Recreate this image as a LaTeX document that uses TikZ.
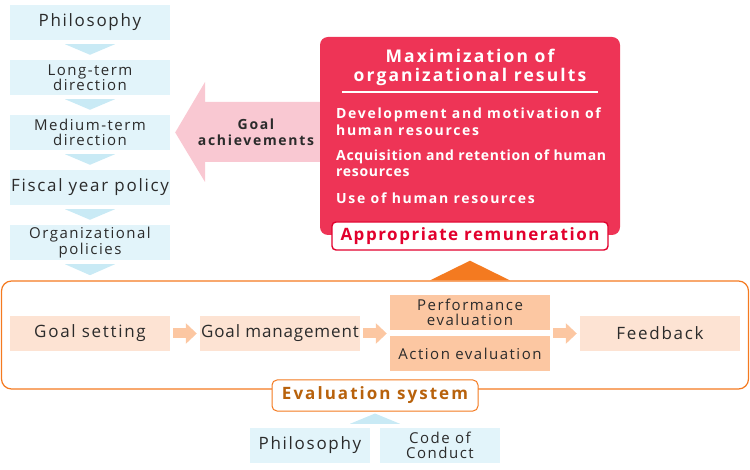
\documentclass[tikz,border=0pt]{standalone}
\usepackage{fontspec}
\setmainfont{Open Sans}[LetterSpace=10]
\newfontfamily\wideface{Open Sans}[LetterSpace=12]
\newfontfamily\midface{Open Sans}[LetterSpace=9]
\newfontfamily\tightface{Open Sans}[LetterSpace=5]
\usetikzlibrary{arrows.meta,calc}

\definecolor{BlueBox}{HTML}{E2F4FA}
\definecolor{BlueTri}{HTML}{C9EAF5}
\definecolor{PeachBox}{HTML}{FDE3D3}
\definecolor{PeachDark}{HTML}{FCC7A2}
\definecolor{EvalOrange}{HTML}{F47A20}
\definecolor{EvalText}{HTML}{B8620C}
\definecolor{ResultRed}{HTML}{EE3456}
\definecolor{RemunRed}{HTML}{E2002D}
\definecolor{GoalPink}{HTML}{F9C8D2}
\definecolor{TextGray}{HTML}{2B2B2B}

\tikzstyle{StepBox}=[rectangle, fill=BlueBox, text=TextGray, minimum width=160pt, minimum height=35pt, inner sep=0pt, align=center]
\tikzstyle{BigText}=[font=\fontsize{17}{19}\selectfont]
\tikzstyle{SmallText}=[font=\fontsize{15}{15.5}\selectfont]
\tikzstyle{ProcBox}=[StepBox, fill=PeachBox]
\tikzstyle{EvalBox}=[ProcBox, fill=PeachDark]
\tikzstyle{DownTri}=[fill=BlueTri]
\tikzstyle{ProcArrow}=[-{Triangle[length=11pt,width=20pt]}, line width=10pt, draw=PeachDark, fill=PeachDark, shorten <=3pt, shorten >=3pt]
\tikzstyle{ResultItem}=[anchor=west, text=white, align=left, inner sep=0pt, font=\wideface\bfseries\fontsize{14}{16.5}\selectfont]
\tikzstyle{BoldTitle}=[font=\wideface\bfseries\fontsize{17}{19}\selectfont]

\begin{document}
\begin{tikzpicture}[x=1pt,y=-1pt]
\useasboundingbox (0,0) rectangle (750,470);

% policy chain on the left
\node[StepBox, BigText](Phil) at (90,22.5) {Philosophy};
\node[StepBox, SmallText](LongDir) at (90,77.5) {Long-term\\direction};
\node[StepBox, SmallText](MedDir) at (90,132.5) {Medium-term\\direction};
\node[StepBox, BigText](FiscalPol) at (90,187.5) {Fiscal year policy};
\node[StepBox, SmallText](OrgPol) at (90,242.5) {Organizational\\policies};

\foreach \a/\b in {Phil/LongDir, LongDir/MedDir, MedDir/FiscalPol, FiscalPol/OrgPol}
  \fill[DownTri] ($(\a.south)+(-25,4)$) -- ($(\a.south)+(25,4)$) -- ($(\b.north)+(0,-5)$) -- cycle;
\fill[DownTri] ($(OrgPol.south)+(-25,4)$) -- ($(OrgPol.south)+(25,4)$) -- ($(OrgPol.south)+(0,15)$) -- cycle;

%%%%%%%%%%%%%%%%%%%%%%%%%%%%%%%%%%%%%%%%%

% goal achievements arrow and results box
\fill[GoalPink] (320,102) -- (205,102) -- (205,82) -- ($(MedDir.east)+(5,0)$) -- (205,182) -- (205,162) -- (320,162) -- cycle;
\node[text=TextGray, align=center, font=\wideface\bfseries\fontsize{14}{16}\selectfont](GoalTxt) at (256,132) {Goal\\achievements};

\node[fill=ResultRed, rounded corners=8pt, minimum width=300pt, minimum height=198pt](Results) at (470,136) {};
\node[text=white, align=center, font=\wideface\bfseries\fontsize{17.5}{19}\selectfont](ResTitle) at (470,67) {Maximization of\\organizational results};
\draw[white, line width=1.5pt] (342,92) -- (598,92);
\node[ResultItem](Item1) at (336,121.5) {Development and motivation of\\human resources};
\node[ResultItem, font=\tightface\bfseries\fontsize{14}{16.5}\selectfont](Item2) at (336,163) {Acquisition and retention of human\\resources};
\node[ResultItem](Item3) at (336,198) {Use of human resources};
\node[font=\midface\bfseries\fontsize{17}{19}\selectfont, fill=white, draw=RemunRed, line width=1.4pt, rounded corners=4pt, minimum width=276pt, minimum height=28pt, inner sep=0pt, text=RemunRed](Remun) at (470,236) {Appropriate remuneration};

%%%%%%%%%%%%%%%%%%%%%%%%%%%%%%%%%%%%%%%%%

% evaluation system
\node[draw=EvalOrange, line width=1.2pt, rounded corners=10pt, minimum width=747pt, minimum height=108pt](EvalFrame) at (375,335) {};
\fill[EvalOrange] ($(Remun.south |- EvalFrame.north)+(-40,0)$) -- ($(Remun.south)+(0,10)$) -- ($(Remun.south |- EvalFrame.north)+(40,0)$) -- cycle;

\node[ProcBox, BigText](GoalSet) at (90,333.5) {Goal setting};
\node[ProcBox, font=\tightface\fontsize{17}{19}\selectfont](GoalMgmt) at (280,333.5) {Goal management};
\node[EvalBox, SmallText](PerfEval) at (470,312.5) {Performance\\evaluation};
\node[EvalBox, SmallText](ActEval) at (470,353.5) {Action evaluation};
\node[ProcBox, BigText](Feedback) at (660,333.5) {Feedback};

\draw[ProcArrow](GoalSet) -- (GoalMgmt);
\draw[ProcArrow](GoalMgmt) -- (PerfEval.west |- GoalMgmt.east);
\draw[ProcArrow](PerfEval.east |- Feedback.west) -- (Feedback);

\node[BoldTitle, fill=white, draw=EvalOrange, line width=1pt, rounded corners=5pt, minimum width=206pt, minimum height=31pt, inner sep=0pt, text=EvalText](EvalSys) at (375,395.5) {Evaluation system};

\node[StepBox, BigText, minimum width=120pt](PhilB) at (310,445.5) {Philosophy};
\node[StepBox, SmallText, minimum width=120pt](CodeCond) at (440,445.5) {Code of\\Conduct};
\coordinate (BaseMid) at ($(PhilB.north east)!0.5!(CodeCond.north west)$);
\fill[DownTri] ($(BaseMid)+(-25,-4)$) -- ($(BaseMid)+(25,-4)$) -- ($(EvalSys.south)+(0,2)$) -- cycle;
\end{tikzpicture}
\end{document}
